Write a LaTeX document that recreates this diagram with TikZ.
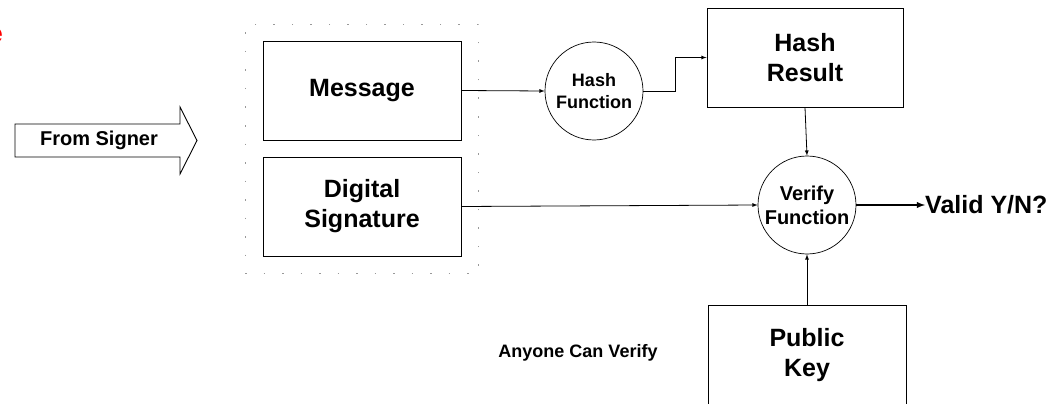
\documentclass[tikz,border=0pt]{standalone}
\usepackage{fontspec}
\setmainfont{Liberation Sans}
\usetikzlibrary{arrows,shapes,positioning,calc}

\begin{document}
\begin{tikzpicture}[x=1pt,y=-1pt,>=latex,
  blk/.style={draw, line width=0.9pt, minimum width=198pt, minimum height=99pt,
    align=center, font=\bfseries\fontsize{25}{30}\selectfont},
  fn/.style={draw, circle, line width=0.7pt, minimum size=98pt, inner sep=0pt, align=center},
  grp/.style={draw=gray!80, line width=1pt, dash pattern=on 1.5pt off 17pt},
  link/.style={->, line width=0.8pt}]
  \useasboundingbox (0,0) rectangle (1061,404);
  \node[text=red, anchor=base east, inner sep=0pt, font=\bfseries\fontsize{26}{30}\selectfont] (cut) at (3,43) {e};
  \draw[line width=0.9pt] (15,124) -- (180,124) -- (180,107) -- (197,140.5)
    -- (180,174) -- (180,157) -- (15,157) -- cycle;
  \node[font=\bfseries\fontsize{20}{24}\selectfont] (signer) at (99,140) {From Signer};
  \node[grp, minimum width=233pt, minimum height=248pt] (bundle) at (361.5,149) {};
  \node[blk] (msg) at (362,90.5) {Message};
  \node[blk] (sig) at (362,206.5) {Digital\\Signature};
  \node[fn, font=\bfseries\fontsize{18}{22}\selectfont] (hash) at (594,91) {Hash\\Function};
  \node[blk, minimum width=196pt] (result) at (805,57.5) {Hash\\Result};
  \node[fn, font=\bfseries\fontsize{20}{24}\selectfont] (verify) at (807,205) {Verify\\Function};
  \node[blk] (key) at (807,355) {Public\\Key};
  \node[anchor=west, inner sep=0pt, font=\bfseries\fontsize{25}{30}\selectfont] (valid) at (925,205) {Valid Y/N?};
  \node[font=\bfseries\fontsize{18}{22}\selectfont] (anyone) at (578,353) {Anyone Can Verify};
  \draw[link] (msg.east) -- (hash.west);
  \draw[link] (hash.east) -- ++(32,0) |- (result.west);
  \draw[link] (result.south) -- (verify.north);
  \draw[link] (sig.east) -- (verify.west);
  \draw[link] (key.north) -- (verify.south);
  \draw[->, line width=1.8pt] (verify.east) -- (valid.west);
\end{tikzpicture}
\end{document}
